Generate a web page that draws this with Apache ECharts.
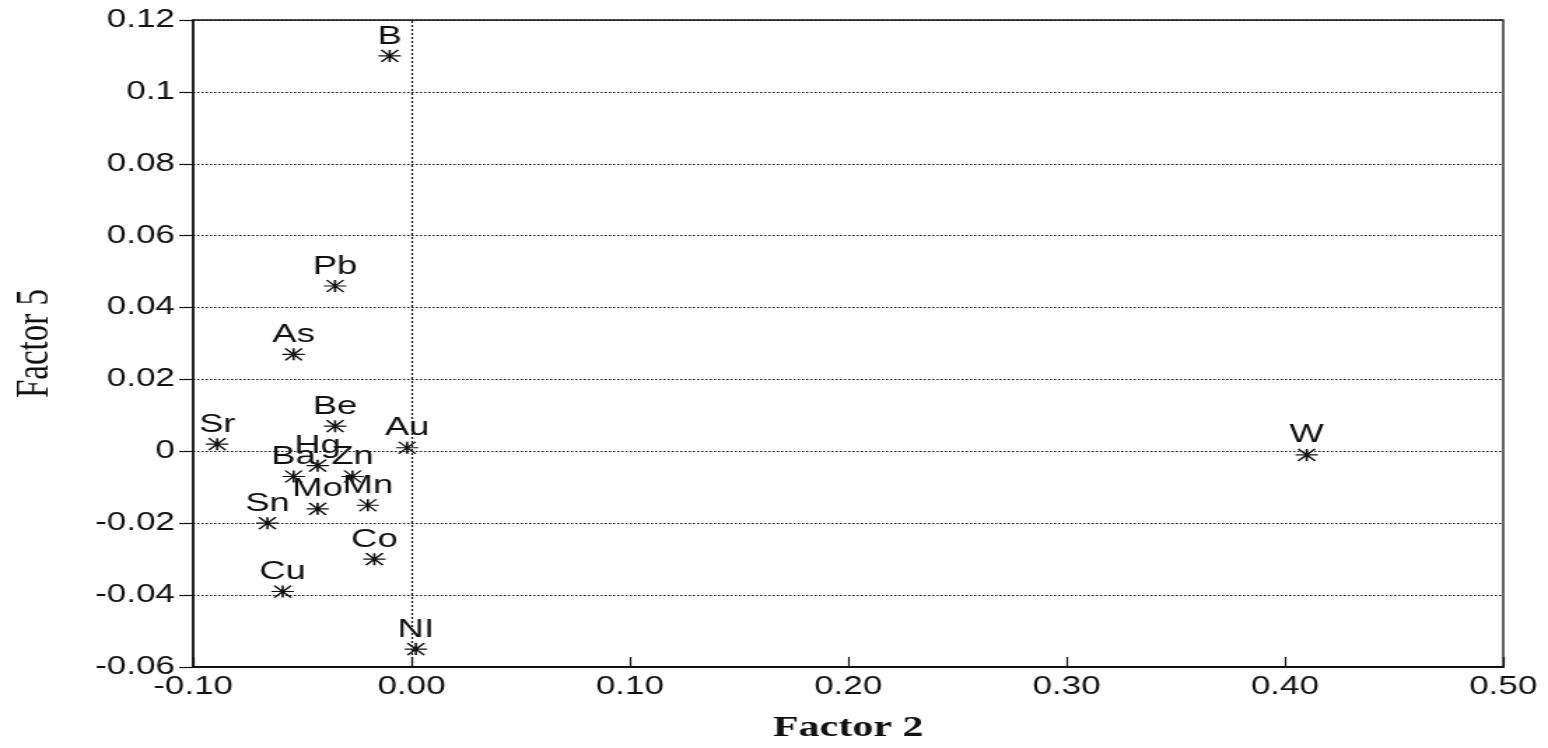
<!DOCTYPE html>
<html>
<head>
<meta charset="utf-8">
<script src="https://cdn.jsdelivr.net/npm/echarts@6/dist/echarts.min.js"></script>
<style>
html,body{margin:0;padding:0;background:#fff;overflow:hidden;}
/* the reference picture is horizontally stretched; render narrower and stretch the same way */
#chart{width:1106px;height:748px;transform:scaleX(1.39964);transform-origin:0 0;}
</style>
</head>
<body>
<div id="chart"></div>
<script>
const elements = ['B','Pb','As','Sr','Be','Au','Hg','Ba','Zn','Mo','Mn','Sn','Co','Cu','NI','W'];
const factor2 = [-0.010,-0.035,-0.054,-0.089,-0.035,-0.002,-0.043,-0.054,-0.027,-0.043,-0.020,-0.066,-0.017,-0.059,0.002,0.410];
const factor5 = [0.110,0.046,0.027,0.002,0.007,0.001,-0.004,-0.007,-0.007,-0.016,-0.015,-0.020,-0.030,-0.039,-0.055,-0.001];
const xRange = [-0.10, 0.50, 0.10];
const yRange = [-0.06, 0.12, 0.02];

const points = elements.map((n, i) => ({ name: n, value: [factor2[i], factor5[i]] }));
const ink = '#111';
const chart = echarts.init(document.getElementById('chart'), null, { renderer: 'canvas' });
chart.setOption({
  backgroundColor: '#fff',
  animation: false,
  grid: { left: 138, right: 32, top: 20, bottom: 81, outerBoundsMode: 'none', containLabel: false,
          show: true, borderColor: ink, borderWidth: 1.3, backgroundColor: 'transparent' },
  xAxis: {
    type: 'value', min: xRange[0], max: xRange[1], interval: xRange[2],
    name: 'Factor 2', nameLocation: 'middle', nameGap: 46,
    nameTextStyle: { fontFamily: 'Liberation Serif', fontWeight: 'bold', fontSize: 30, color: ink },
    axisLine: { show: true, onZero: false, lineStyle: { color: ink, width: 2 } },
    axisTick: { show: true, inside: true, length: 10, lineStyle: { color: ink, width: 1.2 } },
    axisLabel: { fontFamily: 'Liberation Sans', fontSize: 25, color: ink, margin: 8, formatter: v => v.toFixed(2) },
    splitLine: { show: false }
  },
  yAxis: {
    type: 'value', min: yRange[0], max: yRange[1], interval: yRange[2],
    name: 'Factor 5', nameLocation: 'middle', nameGap: 96, nameRotate: 90,
    nameTextStyle: { fontFamily: 'Liberation Serif', fontSize: 33, color: ink },
    axisLine: { show: true, onZero: false, lineStyle: { color: ink, width: 1.5 } },
    axisTick: { show: true, inside: false, length: 10, lineStyle: { color: ink, width: 1.2 } },
    axisLabel: { fontFamily: 'Liberation Sans', fontSize: 25, color: ink, margin: 13, formatter: v => String(Math.round(v * 100) / 100) },
    splitLine: { show: true, lineStyle: { color: ink, type: [1.5, 1.5], width: 1.2 } }
  },
  series: [{
    type: 'scatter',
    data: points,
    symbol: 'path://M0,6 L16,6 M2,0 L14,12 M2,12 L14,0 M8,0 L8,12',
    symbolSize: [16, 12],
    itemStyle: { color: 'transparent', borderColor: ink, borderWidth: 1.4, opacity: 1 },
    label: { show: true, position: 'top', distance: 0, formatter: p => p.name, fontFamily: 'Liberation Sans', fontSize: 26, color: ink },
    markLine: {
      silent: true, symbol: 'none', label: { show: false },
      lineStyle: { color: ink, type: [2, 2], width: 1.2 },
      data: [{ xAxis: 0 }]
    },
    z: 3
  }]
});
</script>
</body>
</html>
